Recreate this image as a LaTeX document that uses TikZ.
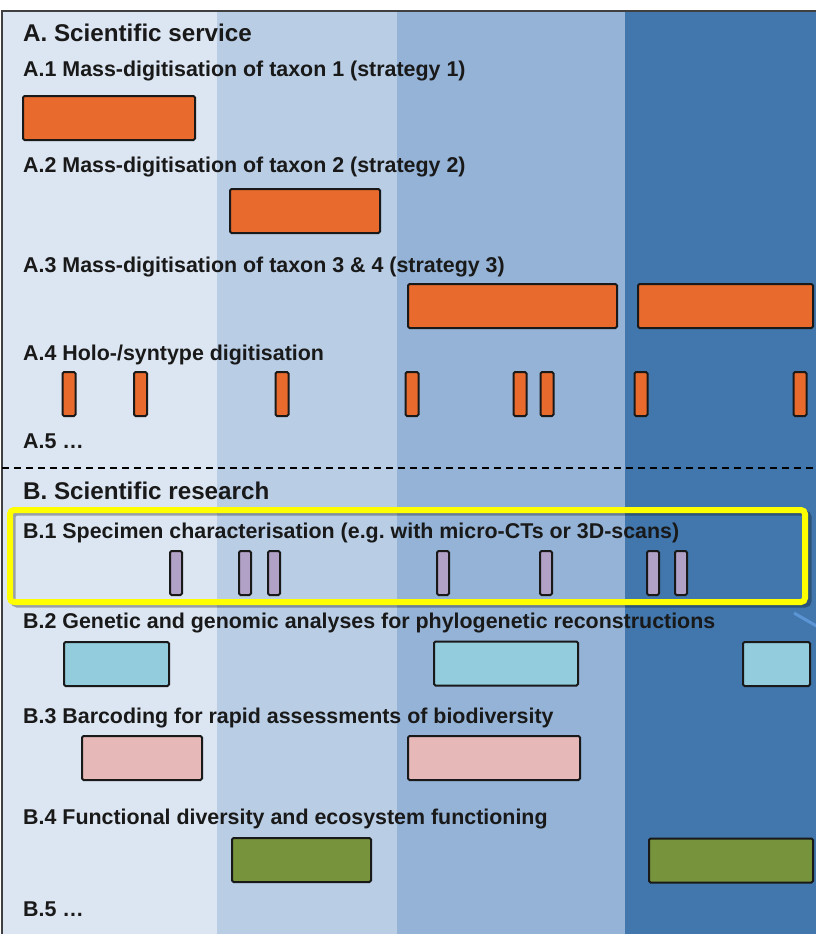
\documentclass[tikz,border=0pt]{standalone}
\usepackage{fontspec}
\setmainfont{Liberation Sans}
\usepackage{xcolor}
\usepackage{tikz}
\usetikzlibrary{positioning}

\definecolor{bandA}{HTML}{DCE6F2}
\definecolor{bandB}{HTML}{B9CDE5}
\definecolor{bandC}{HTML}{95B3D7}
\definecolor{bandD}{HTML}{4277AD}
\definecolor{digorange}{HTML}{E86A2C}
\definecolor{ctpurple}{HTML}{B2A1C7}
\definecolor{gencyan}{HTML}{93CDDD}
\definecolor{barpink}{HTML}{E6B9B8}
\definecolor{fungreen}{HTML}{77933C}
\definecolor{hlyellow}{HTML}{FFFF00}
\definecolor{linkblue}{HTML}{5B95D5}

\begin{document}
\begin{tikzpicture}[x=1pt, y=-1pt,
    head/.style={anchor=base west, inner sep=0pt, text=black!90,
                 font=\fontsize{24.2}{28}\selectfont\bfseries},
    item/.style={anchor=base west, inner sep=0pt, text=black!90,
                 font=\fontsize{21.4}{25}\selectfont\bfseries},
    bar/.style={draw=black!90, line width=2pt, rounded corners=1.5pt,
                inner sep=0pt, minimum height=44pt},
    tick/.style={bar, minimum width=13pt},
    ctick/.style={bar, fill=ctpurple, minimum width=12pt}
  ]
    \useasboundingbox (0,0) rectangle (816,934);
    \fill[white] (0,0) rectangle (816,934);
    % time bands
    \fill[bandA] (2,11) rectangle (217,934);
    \fill[bandB] (217,11) rectangle (397,934);
    \fill[bandC] (397,11) rectangle (625,934);
    \fill[bandD] (625,11) rectangle (816,934);
    \draw[black!75, line width=1.5pt] (2,940) -- (2,11) -- (820,11);

    % A. scientific service
    \node[head] (ahead) at (23,42) {A. Scientific service};
    \node[item] (a1) at (23,77) {A.1 Mass-digitisation of taxon 1 (strategy 1)};
    \node[bar, fill=digorange, minimum width=172pt] (a1bar) at (109,118) {};
    \node[item] (a2) at (23,172) {A.2 Mass-digitisation of taxon 2 (strategy 2)};
    \node[bar, fill=digorange, minimum width=150pt] (a2bar) at (305,211) {};
    \node[item] (a3) at (23,272) {A.3 Mass-digitisation of taxon 3 \& 4 (strategy 3)};
    \node[bar, fill=digorange, minimum width=209pt] (a3bar) at (512.5,306) {};
    \node[bar, fill=digorange, minimum width=175pt] (a3bar2) at (725.5,306) {};
    \node[item] (a4) at (23,360) {A.4 Holo-/syntype digitisation};
    \node[tick, fill=digorange] (a4t1) at (69,394) {};
    \node[tick, fill=digorange] (a4t2) at (140.5,394) {};
    \node[tick, fill=digorange] (a4t3) at (282,394) {};
    \node[tick, fill=digorange] (a4t4) at (412,394) {};
    \node[tick, fill=digorange] (a4t5) at (520,394) {};
    \node[tick, fill=digorange] (a4t6) at (547,394) {};
    \node[tick, fill=digorange] (a4t7) at (641,394) {};
    \node[tick, fill=digorange] (a4t8) at (800,394) {};
    \node[item] (a5) at (23,448) {A.5 \dots};

    \draw[black, line width=1.5pt, dash pattern=on 7pt off 5pt] (2,468) -- (816,468);

    % B. scientific research
    \node[head] (bhead) at (23,499) {B. Scientific research};
    \draw[black, opacity=0.3, line width=5pt, rounded corners=4pt] (13,513) rectangle (809,605);
    \node[draw=hlyellow, line width=6pt, rounded corners=4pt, inner sep=0pt,
          minimum width=795pt, minimum height=92pt] (hl) at (407.5,556) {};
    \node[item] (b1) at (23,538) {B.1 Specimen characterisation (e.g.\ with micro-CTs or 3D-scans)};
    \node[ctick] (b1t1) at (176,573) {};
    \node[ctick] (b1t2) at (245,573) {};
    \node[ctick] (b1t3) at (274,573) {};
    \node[ctick] (b1t4) at (443,573) {};
    \node[ctick] (b1t5) at (546,573) {};
    \node[ctick] (b1t6) at (653,573) {};
    \node[ctick] (b1t7) at (681,573) {};
    \coordinate (lk1) at (794,613);
    \coordinate (lk2) at (820,628);
    \draw[linkblue, line width=3pt] (lk1) -- (lk2);
    \node[item] (b2) at (23,628) {B.2 Genetic and genomic analyses for phylogenetic reconstructions};
    \node[bar, fill=gencyan, minimum width=105pt] (b2bar) at (116.5,664) {};
    \node[bar, fill=gencyan, minimum width=144pt] (b2bar2) at (506,663.5) {};
    \node[bar, fill=gencyan, minimum width=67pt] (b2bar3) at (776.5,664) {};
    \node[item] (b3) at (23,723) {B.3 Barcoding for rapid assessments of biodiversity};
    \node[bar, fill=barpink, minimum width=120pt] (b3bar) at (142,758) {};
    \node[bar, fill=barpink, minimum width=172pt] (b3bar2) at (494,758) {};
    \node[item] (b4) at (23,824) {B.4 Functional diversity and ecosystem functioning};
    \node[bar, fill=fungreen, minimum width=139pt] (b4bar) at (301.5,860) {};
    \node[bar, fill=fungreen, minimum width=164pt] (b4bar2) at (731,860.5) {};
    \node[item] (b5) at (23,916) {B.5 \dots};
  \end{tikzpicture}
\end{document}
